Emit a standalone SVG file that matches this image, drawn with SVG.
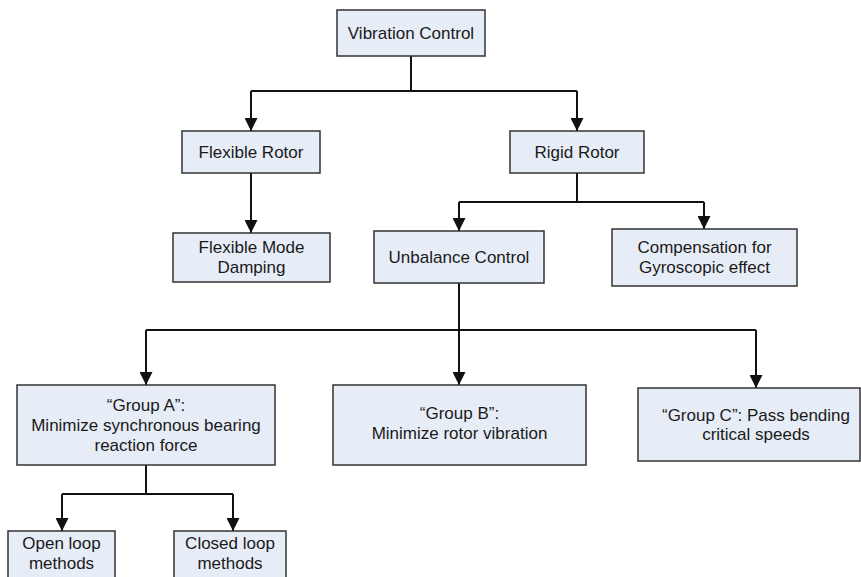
<svg xmlns="http://www.w3.org/2000/svg" width="861" height="577" viewBox="0 0 861 577">
<defs>
<style>
.box{fill:#E7EDF7;stroke:#333;stroke-width:1.5}
.lbl{font-family:"Liberation Sans",Arial,sans-serif;font-size:17px;fill:#1a1a1a;text-anchor:middle}
.c{fill:none;stroke:#111;stroke-width:2}
</style>
<marker id="arr" markerUnits="userSpaceOnUse" markerWidth="13" markerHeight="13" viewBox="0 0 13 13" refX="13" refY="6.5" orient="auto">
<path d="M0,0 L13,6.5 L0,13 z" fill="#111"/>
</marker>
</defs>
<rect width="861" height="577" fill="#fff"/>
<g id="connectors">
<path class="c" d="M411 56 V91 M251 91 H577"/>
<path class="c" d="M251 91 V131" marker-end="url(#arr)"/>
<path class="c" d="M577 91 V131" marker-end="url(#arr)"/>
<path class="c" d="M251 173 V233" marker-end="url(#arr)"/>
<path class="c" d="M577 173 V202 M459 202 H704"/>
<path class="c" d="M459 202 V231" marker-end="url(#arr)"/>
<path class="c" d="M704 202 V229" marker-end="url(#arr)"/>
<path class="c" d="M459 283 V330 M146 330 H756"/>
<path class="c" d="M146 330 V385" marker-end="url(#arr)"/>
<path class="c" d="M459 330 V385" marker-end="url(#arr)"/>
<path class="c" d="M756 330 V388" marker-end="url(#arr)"/>
<path class="c" d="M146 465 V494 M62 494 H233"/>
<path class="c" d="M62 494 V531" marker-end="url(#arr)"/>
<path class="c" d="M233 494 V531" marker-end="url(#arr)"/>
</g>
<g id="vibration-control">
<rect class="box" x="337" y="10" width="148" height="46"/>
<text class="lbl" x="411" y="39">Vibration Control</text>
</g>
<g id="flexible-rotor">
<rect class="box" x="182" y="131" width="138" height="42"/>
<text class="lbl" x="251" y="158">Flexible Rotor</text>
</g>
<g id="rigid-rotor">
<rect class="box" x="510" y="131" width="134" height="42"/>
<text class="lbl" x="577" y="158">Rigid Rotor</text>
</g>
<g id="flexible-mode-damping">
<rect class="box" x="173" y="233" width="157" height="49"/>
<text class="lbl" x="251.5" y="253">Flexible Mode</text>
<text class="lbl" x="251.5" y="273">Damping</text>
</g>
<g id="unbalance-control">
<rect class="box" x="374" y="231" width="170" height="52"/>
<text class="lbl" x="459" y="263">Unbalance Control</text>
</g>
<g id="gyroscopic">
<rect class="box" x="612" y="229" width="185" height="57"/>
<text class="lbl" x="704.5" y="253">Compensation for</text>
<text class="lbl" x="704.5" y="273">Gyroscopic effect</text>
</g>
<g id="group-a">
<rect class="box" x="17" y="385" width="258" height="80"/>
<text class="lbl" x="146" y="411">“Group A”:</text>
<text class="lbl" x="146" y="431">Minimize synchronous bearing</text>
<text class="lbl" x="146" y="451">reaction force</text>
</g>
<g id="group-b">
<rect class="box" x="333" y="385" width="253" height="80"/>
<text class="lbl" x="459.5" y="419">“Group B”:</text>
<text class="lbl" x="459.5" y="439">Minimize rotor vibration</text>
</g>
<g id="group-c">
<rect class="box" x="638" y="388" width="222" height="73"/>
<text class="lbl" x="756" y="421">“Group C”: Pass bending</text>
<text class="lbl" x="756" y="440">critical speeds</text>
</g>
<g id="open-loop">
<rect class="box" x="8" y="531" width="107" height="50"/>
<text class="lbl" x="61.5" y="549">Open loop</text>
<text class="lbl" x="61.5" y="569">methods</text>
</g>
<g id="closed-loop">
<rect class="box" x="174" y="531" width="112" height="50"/>
<text class="lbl" x="230" y="549">Closed loop</text>
<text class="lbl" x="230" y="569">methods</text>
</g>
</svg>
